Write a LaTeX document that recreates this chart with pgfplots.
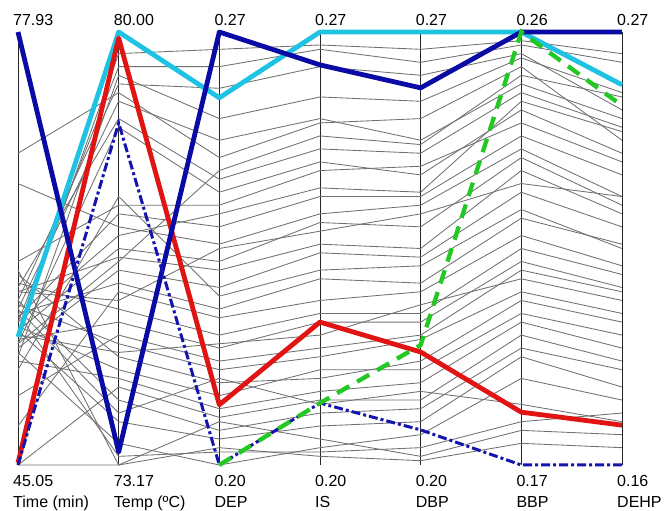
\documentclass[border=0pt]{standalone}
\usepackage{pgfplots}
\pgfplotsset{compat=1.18}
\usepackage{fontspec}
\setmainfont{Liberation Sans}

\definecolor{navyl}{RGB}{10,10,165}
\definecolor{cyanl}{RGB}{30,195,228}
\definecolor{redl}{RGB}{225,20,20}
\definecolor{greenl}{RGB}{35,200,35}
\definecolor{bluedd}{RGB}{20,20,175}
\definecolor{greyl}{RGB}{112,112,112}

\tikzset{lbl/.style={font=\fontsize{16}{21}\selectfont, inner sep=0pt, anchor=base west, xshift=-5pt}}

% one gray profile: Time, Temp, DEP, IS, DBP, BBP, DEHP (scaled 0..1)
\newcommand{\pc}[7]{\addplot[greyl, line width=0.85pt] coordinates {(0,#1) (1,#2) (2,#3) (3,#4) (4,#5) (5,#6) (6,#7)};}

\begin{document}
\begin{tikzpicture}
\path[use as bounding box] (-18pt,-46pt) rectangle (646pt,465pt);
\begin{axis}[
    at={(0,0)}, anchor=south west,
    width=604pt, height=433pt, scale only axis,
    xmin=0, xmax=6, ymin=0, ymax=1,
    hide axis, clip=false,
]
% vertical axes
\pgfplotsinvokeforeach{0,...,6}{
  \addplot[black!85, line width=0.9pt] coordinates {(#1,0) (#1,1)};
}

% gray profiles
\pc{0.30}{0.95}{0.96}{0.97}{0.96}{0.98}{0.95}
\pc{0.33}{0.92}{0.92}{0.96}{0.93}{0.97}{0.93}
\pc{0.38}{0.88}{0.87}{0.92}{0.90}{0.95}{0.82}
\pc{0.25}{0.90}{0.80}{0.85}{0.84}{0.94}{0.86}
\pc{0.36}{0.84}{0.75}{0.80}{0.75}{0.88}{0.80}
\pc{0.72}{0.86}{0.71}{0.79}{0.80}{0.92}{0.75}
\pc{0.41}{0.80}{0.66}{0.73}{0.72}{0.86}{0.78}
\pc{0.28}{0.78}{0.63}{0.70}{0.67}{0.82}{0.72}
\pc{0.47}{0.60}{0.60}{0.68}{0.69}{0.79}{0.70}
\pc{0.34}{0.58}{0.55}{0.62}{0.62}{0.76}{0.67}
\pc{0.65}{0.55}{0.51}{0.58}{0.60}{0.73}{0.62}
\pc{0.31}{0.50}{0.47}{0.56}{0.55}{0.71}{0.60}
\pc{0.40}{0.48}{0.45}{0.51}{0.50}{0.68}{0.58}
\pc{0.27}{0.45}{0.41}{0.49}{0.48}{0.63}{0.55}
\pc{0.22}{0.62}{0.39}{0.45}{0.46}{0.59}{0.50}
\pc{0.35}{0.42}{0.36}{0.43}{0.42}{0.57}{0.51}
\pc{0.09}{0.40}{0.34}{0.38}{0.40}{0.53}{0.46}
\pc{0.42}{0.36}{0.30}{0.35}{0.35}{0.50}{0.44}
\pc{0.29}{0.33}{0.27}{0.33}{0.33}{0.47}{0.41}
\pc{0.16}{0.30}{0.24}{0.27}{0.30}{0.45}{0.40}
\pc{0.37}{0.28}{0.22}{0.25}{0.29}{0.40}{0.35}
\pc{0.44}{0.25}{0.19}{0.20}{0.24}{0.38}{0.33}
\pc{0.32}{0.22}{0.16}{0.22}{0.22}{0.35}{0.30}
\pc{0.24}{0.20}{0.13}{0.17}{0.19}{0.33}{0.27}
\pc{0.00}{0.18}{0.11}{0.15}{0.15}{0.30}{0.24}
\pc{0.38}{0.15}{0.08}{0.12}{0.13}{0.27}{0.22}
\pc{0.31}{0.10}{0.06}{0.09}{0.10}{0.25}{0.18}
\pc{0.26}{0.05}{0.00}{0.04}{0.07}{0.20}{0.15}
\pc{0.35}{0.02}{0.03}{0.03}{0.04}{0.10}{0.12}
\pc{0.45}{0.00}{0.10}{0.06}{0.02}{0.08}{0.07}
\pc{0.33}{0.53}{0.58}{0.64}{0.63}{0.84}{0.77}
\pc{0.28}{0.47}{0.68}{0.76}{0.74}{0.90}{0.85}
\pc{0.40}{0.38}{0.50}{0.54}{0.58}{0.65}{0.62}
\pc{0.30}{0.26}{0.28}{0.30}{0.37}{0.43}{0.38}
\pc{0.36}{0.12}{0.20}{0.14}{0.17}{0.14}{0.10}
\pc{0.00}{0.00}{0.04}{0.02}{0.01}{0.05}{0.04}

% highlighted profiles
\addplot[cyanl, line width=4.8pt, line join=round] coordinates
  {(0,0.296) (1,1) (2,0.848) (3,1) (4,1) (5,1) (6,0.878)};
\addplot[redl, line width=4.8pt, line join=round] coordinates
  {(0,0.005) (1,0.986) (2,0.139) (3,0.330) (4,0.261) (5,0.122) (6,0.092)};
\addplot[navyl, line width=4.8pt, line join=round] coordinates
  {(0,1) (1,0.03) (2,1) (3,0.924) (4,0.871) (5,1) (6,1)};
\addplot[bluedd, line width=3pt, dash pattern=on 9pt off 3pt on 3pt off 3pt] coordinates
  {(0,0) (1,0.79) (2,0) (3,0.143) (4,0.081) (5,0) (6,0)};
\addplot[greenl, line width=4.3pt, dash pattern=on 14pt off 9pt] coordinates
  {(2,0) (3,0.143) (4,0.277) (5,1) (6,0.83)};

% axis labels
\node[lbl, yshift=6pt] at (axis cs:0,1) {77.93};
\node[lbl, yshift=6pt] at (axis cs:1,1) {80.00};
\node[lbl, yshift=6pt] at (axis cs:2,1) {0.27};
\node[lbl, yshift=6pt] at (axis cs:3,1) {0.27};
\node[lbl, yshift=6pt] at (axis cs:4,1) {0.27};
\node[lbl, yshift=6pt] at (axis cs:5,1) {0.26};
\node[lbl, yshift=6pt] at (axis cs:6,1) {0.27};

\node[lbl, yshift=-21pt] at (axis cs:0,0) {45.05};
\node[lbl, yshift=-21pt] at (axis cs:1,0) {73.17};
\node[lbl, yshift=-21pt] at (axis cs:2,0) {0.20};
\node[lbl, yshift=-21pt] at (axis cs:3,0) {0.20};
\node[lbl, yshift=-21pt] at (axis cs:4,0) {0.20};
\node[lbl, yshift=-21pt] at (axis cs:5,0) {0.17};
\node[lbl, yshift=-21pt] at (axis cs:6,0) {0.16};

\node[lbl, yshift=-42pt] at (axis cs:0,0) {Time (min)};
\node[lbl, yshift=-42pt] at (axis cs:1,0) {Temp (ºC)};
\node[lbl, yshift=-42pt] at (axis cs:2,0) {DEP};
\node[lbl, yshift=-42pt] at (axis cs:3,0) {IS};
\node[lbl, yshift=-42pt] at (axis cs:4,0) {DBP};
\node[lbl, yshift=-42pt] at (axis cs:5,0) {BBP};
\node[lbl, yshift=-42pt] at (axis cs:6,0) {DEHP};
\end{axis}
\end{tikzpicture}
\end{document}
